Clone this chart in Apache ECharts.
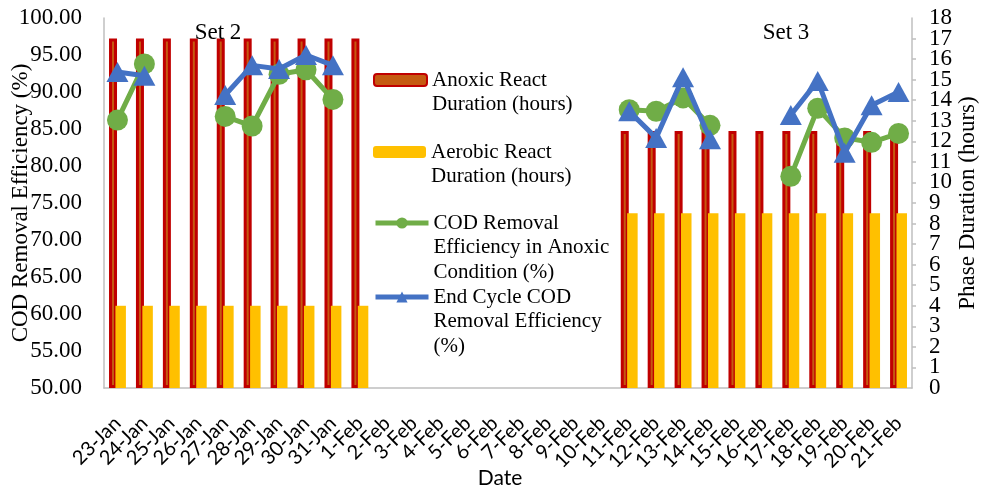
<!DOCTYPE html>
<html>
<head>
<meta charset="utf-8">
<script src="https://cdn.jsdelivr.net/npm/echarts@6/dist/echarts.min.js"></script>
<style>
  html, body { margin: 0; padding: 0; background: #fff; }
  #chart { width: 983px; height: 490px; }
</style>
</head>
<body>
<div id="chart"></div>
<script>
// Sampling dates
const dates = [
  '23-Jan', '24-Jan', '25-Jan', '26-Jan', '27-Jan', '28-Jan', '29-Jan', '30-Jan', '31-Jan',
  '1-Feb', '2-Feb', '3-Feb', '4-Feb', '5-Feb', '6-Feb', '7-Feb', '8-Feb', '9-Feb', '10-Feb',
  '11-Feb', '12-Feb', '13-Feb', '14-Feb', '15-Feb', '16-Feb', '17-Feb', '18-Feb', '19-Feb',
  '20-Feb', '21-Feb'
];

// Phase durations (hours)
const anoxicHours = [
  17, 17, 17, 17, 17, 17, 17, 17, 17, 17,
  null, null, null, null, null, null, null, null, null,
  12.5, 12.5, 12.5, 12.5, 12.5, 12.5, 12.5, 12.5, 12.5, 12.5, 12.5
];
const aerobicHours = [
  4, 4, 4, 4, 4, 4, 4, 4, 4, 4,
  null, null, null, null, null, null, null, null, null,
  8.5, 8.5, 8.5, 8.5, 8.5, 8.5, 8.5, 8.5, 8.5, 8.5, 8.5
];

// COD removal efficiencies (%)
const anoxicEff = [
  86.2, 93.8, null, null, 86.7, 85.4, 92.4, 93.0, 89.0,
  null, null, null, null, null, null, null, null, null, null,
  87.6, 87.4, 89.2, 85.5, null, null, 78.6, 87.8, 83.8, 83.2, 84.4
];
const endCycleEff = [
  92.7, 92.2, null, null, 89.6, 93.6, 93.1, 95.0, 93.6,
  null, null, null, null, null, null, null, null, null, null,
  87.4, 83.8, 92.0, 83.6, null, null, 86.9, 91.5, 81.8, 88.2, 90.0
];

// Left and right axis ranges
const effAxis = { min: 50, max: 100, interval: 5 };
const hourAxis = { min: 0, max: 18, interval: 1 };

// Period annotations
const setLabels = [
  { text: 'Set 2', x: 218, y: 33 },
  { text: 'Set 3', x: 786, y: 33 }
];

const SERIF = '"Liberation Serif", "Times New Roman", serif';
const SANS = 'Lato, "Liberation Sans", sans-serif';
const GRID_LINE = '#BFBFBF';

const names = [
  'Anoxic React\nDuration (hours)',
  'Aerobic React\nDuration (hours)',
  'COD Removal\nEfficiency in Anoxic\nCondition (%)',
  'End Cycle COD\nRemoval Efficiency\n(%)'
];

// One legend per entry so the marker lines up with the first text line
const LH = 24.5;
const legendFirstLineY = [80, 152, 223, 297];
const legends = names.map(function (n, i) {
  const k = n.split('\n').length;
  const pad = new Array(k - 1).fill('').join('\n') + '\n';
  return {
    data: [n],
    orient: 'vertical',
    left: 373,
    top: legendFirstLineY[i] - (2 * k - 1) * LH / 2,
    padding: 0,
    itemWidth: 53,
    itemHeight: i < 2 ? 12 : 14,
    itemGap: 0,
    selectedMode: false,
    lineStyle: { width: 5 },
    formatter: function (name) { return pad + name; },
    textStyle: {
      fontFamily: SERIF,
      fontSize: 21,
      color: '#000',
      lineHeight: LH
    }
  };
});

const hourLabelStyle = {
  fontFamily: SERIF,
  fontSize: 23,
  lineHeight: 16,
  color: '#000'
};

const chart = echarts.init(document.getElementById('chart'), null, { renderer: 'canvas' });

chart.setOption({
  animation: false,
  backgroundColor: '#fff',
  grid: {
    left: 104, right: 71, top: 18, bottom: 102,
    containLabel: false,
    outerBoundsMode: 'none'
  },
  legend: legends,
  xAxis: {
    type: 'category',
    data: dates,
    name: 'Date',
    nameLocation: 'middle',
    nameGap: 80,
    nameMoveOverlap: false,
    nameTextStyle: { fontFamily: SANS, fontSize: 21, color: '#000', padding: [0, 16, 0, 0] },
    axisLine: { lineStyle: { color: GRID_LINE, width: 1.5 } },
    axisTick: { show: false },
    axisLabel: {
      interval: 0,
      rotate: 45,
      margin: 32,
      fontFamily: SANS,
      fontSize: 20,
      color: '#000'
    },
    splitLine: { show: false }
  },
  yAxis: [
    {
      type: 'value',
      position: 'left',
      min: effAxis.min,
      max: effAxis.max,
      interval: effAxis.interval,
      name: 'COD Removal Efficiency (%)',
      nameLocation: 'middle',
      nameRotate: 90,
      nameGap: 72,
      nameMoveOverlap: false,
      nameTextStyle: { fontFamily: SERIF, fontSize: 23, color: '#000' },
      axisLine: { show: true, lineStyle: { color: GRID_LINE, width: 1.5 } },
      axisTick: { show: false },
      axisLabel: {
        margin: 22,
        showMinLabel: true,
        showMaxLabel: true,
        hideOverlap: false,
        fontFamily: SERIF,
        fontSize: 23,
        lineHeight: 18,
        color: '#000',
        formatter: function (v) { return v.toFixed(2); }
      },
      splitLine: { show: false }
    },
    // Hours axis: line, ticks and the odd-hour labels
    {
      type: 'value',
      position: 'right',
      min: hourAxis.min,
      max: hourAxis.max,
      interval: hourAxis.interval,
      name: 'Phase Duration (hours)',
      nameLocation: 'middle',
      nameRotate: 90,
      nameGap: 44,
      nameMoveOverlap: false,
      nameTextStyle: { fontFamily: SERIF, fontSize: 23, color: '#000' },
      axisLine: { show: true, lineStyle: { color: GRID_LINE, width: 1.5 } },
      axisTick: { show: true, inside: false, length: 4, lineStyle: { color: GRID_LINE, width: 1.5 } },
      axisLabel: Object.assign({
        margin: 17,
        showMinLabel: false,
        showMaxLabel: false,
        hideOverlap: false,
        formatter: function (v) { return v % 2 === 1 ? String(v) : ''; }
      }, hourLabelStyle),
      splitLine: { show: false }
    },
    // Same hours scale, carrying the even-hour labels
    {
      type: 'value',
      position: 'right',
      min: hourAxis.min,
      max: hourAxis.max,
      interval: hourAxis.interval * 2,
      axisLine: { show: false },
      axisTick: { show: false },
      axisLabel: Object.assign({
        margin: 17,
        showMinLabel: true,
        showMaxLabel: true,
        hideOverlap: false
      }, hourLabelStyle),
      splitLine: { show: false }
    }
  ],
  series: [
    {
      name: names[0],
      type: 'bar',
      yAxisIndex: 1,
      data: anoxicHours,
      barWidth: 8,
      barGap: '-20%',
      itemStyle: { color: '#C55A11', borderColor: '#C00000', borderWidth: 3 },
      z: 2
    },
    {
      name: names[1],
      type: 'bar',
      yAxisIndex: 1,
      data: aerobicHours,
      barWidth: 10.5,
      barGap: '-20%',
      itemStyle: { color: '#FFC000' },
      z: 3
    },
    {
      name: names[2],
      type: 'line',
      yAxisIndex: 0,
      data: anoxicEff,
      connectNulls: false,
      symbol: 'circle',
      symbolSize: 21,
      lineStyle: { color: '#70AD47', width: 5 },
      itemStyle: { color: '#70AD47' },
      z: 5
    },
    {
      name: names[3],
      type: 'line',
      yAxisIndex: 0,
      data: endCycleEff,
      connectNulls: false,
      symbol: 'triangle',
      symbolSize: [22, 20],
      lineStyle: { color: '#4472C4', width: 5 },
      itemStyle: { color: '#4472C4' },
      z: 6
    }
  ],
  graphic: setLabels.map(function (s) {
    return {
      type: 'text',
      x: s.x,
      y: s.y,
      z: 10,
      style: {
        text: s.text,
        fontFamily: SERIF,
        fontSize: 23,
        fill: '#000',
        align: 'center',
        verticalAlign: 'middle'
      }
    };
  })
});
</script>
</body>
</html>
